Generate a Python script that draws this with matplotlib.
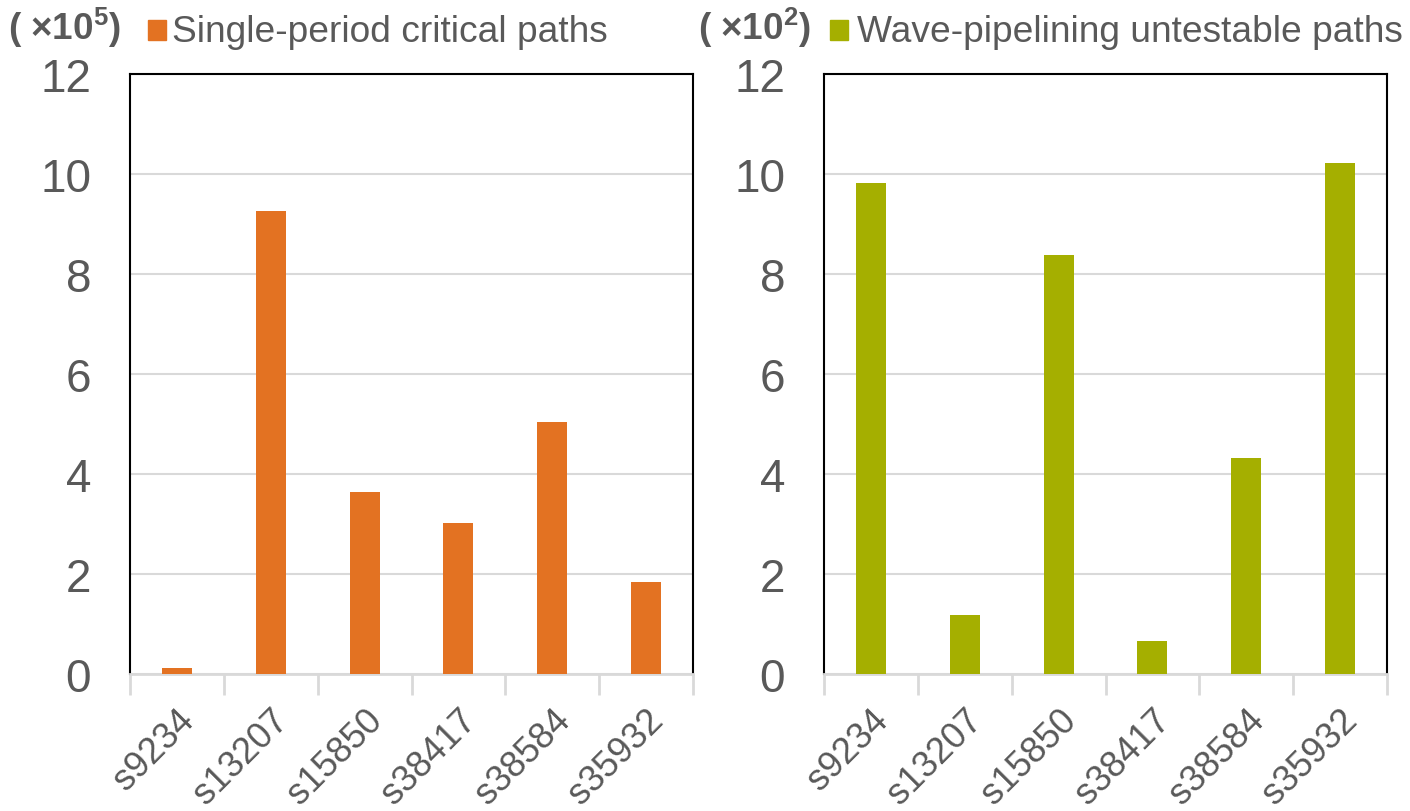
import matplotlib
matplotlib.use("Agg")
import matplotlib.pyplot as plt
from matplotlib.patches import Rectangle

plt.rcParams["font.family"] = ["Liberation Sans", "DejaVu Sans"]
plt.rcParams["mathtext.fontset"] = "custom"
plt.rcParams["mathtext.rm"] = "Liberation Sans"
plt.rcParams["mathtext.bf"] = "Liberation Sans:bold"
plt.rcParams["mathtext.default"] = "bf"

circuits = ["s9234", "s13207", "s15850", "s38417", "s38584", "s35932"]
critical_paths = [0.12, 9.26, 3.64, 3.02, 5.04, 1.84]      # x10^5
untestable_paths = [9.82, 1.18, 8.38, 0.66, 4.32, 10.22]   # x10^2
yticks = [0, 2, 4, 6, 8, 10, 12]

TEXT = "#595959"
GRID = "#d9d9d9"
ORANGE = "#E37222"
GREEN = "#A5AF00"

W, H = 1410, 812
fig = plt.figure(figsize=(W / 100, H / 100), dpi=100)


def draw_panel(left, values, color, scale, label, mult_x, box_x, text_x):
    ax = fig.add_axes([left / W, 1 - 675 / H, 563 / W, 600 / H])
    x = list(range(len(values)))
    ax.bar(x, values, width=0.32, color=color, zorder=3)
    ax.set_xlim(-0.5, len(values) - 0.5)
    ax.set_ylim(0, 12)
    ax.set_yticks(yticks)
    ax.set_yticklabels([str(v) for v in yticks])
    ax.yaxis.grid(True, color=GRID, linewidth=1.5, zorder=0)
    ax.tick_params(axis="y", length=0, pad=28, labelsize=33, labelcolor=TEXT)

    # boundary ticks (no labels) + centred labels
    ax.set_xticks([i - 0.5 for i in range(len(values) + 1)])
    ax.set_xticklabels([])
    ax.tick_params(axis="x", which="major", length=15, width=2, color=GRID)
    ax.set_xticks(x, minor=True)
    ax.set_xticklabels(circuits, minor=True, rotation=45, ha="right",
                       rotation_mode="anchor", fontsize=26, color=TEXT)
    ax.tick_params(axis="x", which="minor", length=0, pad=20)

    for s in ["top", "left", "right"]:
        ax.spines[s].set_color("black")
        ax.spines[s].set_linewidth(1.5)
    ax.spines["bottom"].set_color(GRID)
    ax.spines["bottom"].set_linewidth(2)

    # header: multiplier + legend swatch
    fig.text(mult_x / W, 1 - 40 / H, r"( ×10$^{%d}$)" % scale,
             fontsize=26.5, fontweight="bold", color=TEXT, va="baseline")
    fig.add_artist(Rectangle((box_x / W, 1 - 41 / H), 18 / W, 20 / H,
                             transform=fig.transFigure, color=color))
    fig.text(text_x / W, 1 - 42 / H, label, fontsize=26.7,
             color=TEXT, va="baseline")
    return ax


draw_panel(130, critical_paths, ORANGE, 5, "Single-period critical paths", 8, 148, 172)
draw_panel(824, untestable_paths, GREEN, 2, "Wave-pipelining untestable paths", 698, 830, 857)

fig.savefig("out.png", dpi=100, facecolor="white")
